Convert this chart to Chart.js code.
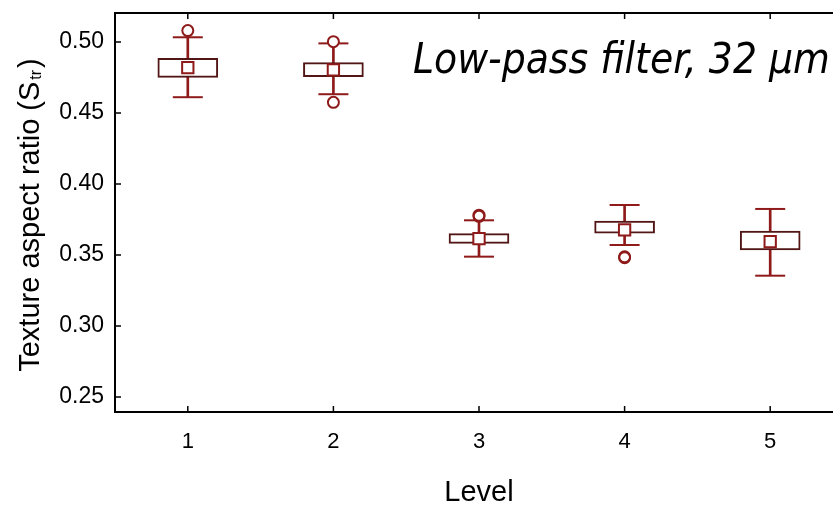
<!DOCTYPE html>
<html>
<head>
<meta charset="utf-8">
<script src="https://cdn.jsdelivr.net/npm/chart.js@4.4.0/dist/chart.umd.min.js"></script>
<style>
  html, body { margin: 0; padding: 0; background: #fff; overflow: hidden; }
  #boxChart { display: block; margin-top: -4px; }
</style>
</head>
<body>
<canvas id="boxChart" width="860" height="509"></canvas>
<script>
// data
const levels = ['1', '2', '3', '4', '5'];
const whiskerLow = [0.4611, 0.4632, 0.3488, 0.3570, 0.3354];
const q1 = [0.4751, 0.4756, 0.3582, 0.3653, 0.3535];
const q3 = [0.4885, 0.4854, 0.3650, 0.3739, 0.3669];
const whiskerHigh = [0.5033, 0.4990, 0.3744, 0.3852, 0.3824];
const means = [0.4819, 0.4803, 0.3615, 0.3676, 0.3594];
const outliersA = [0.5080, 0.5002, 0.3772, 0.3487, null];
const outliersB = [null, 0.4575, 0.3780, 0.3481, null];
const yTicks = [0.25, 0.30, 0.35, 0.40, 0.45, 0.50];

const red = '#8e1a1a';
const dark = '#521616';
const font = '"Liberation Sans", Arial, sans-serif';

const framePlugin = {
   id: 'frame',
   afterDraw(chart) {
      const c = chart.ctx;
      const a = chart.chartArea;
      const xs = chart.scales.x;
      const ys = chart.scales.y;
      c.save();
      c.strokeStyle = '#000';
      c.lineWidth = 2;
      // top border
      c.beginPath();
      c.moveTo(a.left, a.top);
      c.lineTo(a.right, a.top);
      c.stroke();
      // inward ticks
      c.lineWidth = 1.5;
      c.beginPath();
      levels.forEach((l, i) => {
         const px = xs.getPixelForValue(i);
         c.moveTo(px, a.bottom);
         c.lineTo(px, a.bottom - 6);
         c.moveTo(px, a.top);
         c.lineTo(px, a.top + 6);
      });
      yTicks.forEach(v => {
         const py = ys.getPixelForValue(v);
         c.moveTo(a.left, py);
         c.lineTo(a.left + 6, py);
      });
      c.stroke();

      // y title with subscript
      c.fillStyle = '#000';
      c.translate(31, (a.top + a.bottom) / 2 + 3);
      c.rotate(-Math.PI / 2);
      c.textBaseline = 'middle';
      const main = 'Texture aspect ratio (S';
      const sub = 'tr';
      c.font = '29px ' + font;
      const w1 = c.measureText(main).width;
      c.font = '16px ' + font;
      const w2 = c.measureText(sub).width;
      c.font = '29px ' + font;
      const w3 = c.measureText(')').width;
      let x0 = -(w1 + w2 + 3 + w3) / 2;
      c.fillText(main, x0, 0);
      c.font = '16px ' + font;
      c.fillText(sub, x0 + w1 + 2, 6);
      c.font = '29px ' + font;
      c.fillText(')', x0 + w1 + w2 + 4, 0);
      c.restore();

      // caption inside plot
      c.save();
      c.fillStyle = '#000';
      c.font = 'italic 42px "DejaVu Sans Condensed", "DejaVu Sans", sans-serif';
      c.textBaseline = 'alphabetic';
      c.fillText('Low-pass filter, 32 \u00b5m', 413, a.top + 60);
      c.restore();
   }
};

const ctx = document.getElementById('boxChart').getContext('2d');
const boxChart = new Chart(ctx, {
   type: 'bar',
   data: {
      labels: levels,
      datasets: [
         {
            label: 'whisker',
            data: whiskerLow.map((lo, i) => [lo, whiskerHigh[i]]),
            backgroundColor: red,
            borderWidth: 0,
            barThickness: 2,
            grouped: false,
            order: 6
         },
         {
            label: 'box',
            data: q1.map((lo, i) => [lo, q3[i]]),
            backgroundColor: '#fff',
            borderColor: dark,
            borderWidth: 2,
            borderSkipped: false,
            barThickness: 60,
            grouped: false,
            order: 5
         },
         {
            type: 'line',
            label: 'capHigh',
            data: whiskerHigh,
            showLine: false,
            pointStyle: 'line',
            pointRadius: 15,
            pointBorderColor: red,
            pointBorderWidth: 2,
            order: 4
         },
         {
            type: 'line',
            label: 'capLow',
            data: whiskerLow,
            showLine: false,
            pointStyle: 'line',
            pointRadius: 15,
            pointBorderColor: red,
            pointBorderWidth: 2,
            order: 4
         },
         {
            type: 'line',
            label: 'outliersA',
            data: outliersA,
            showLine: false,
            pointStyle: 'circle',
            pointRadius: 5.5,
            pointBackgroundColor: '#fff',
            pointBorderColor: red,
            pointBorderWidth: 2,
            order: 3
         },
         {
            type: 'line',
            label: 'outliersB',
            data: outliersB,
            showLine: false,
            pointStyle: 'circle',
            pointRadius: 5.5,
            pointBackgroundColor: 'rgba(255,255,255,0)',
            pointBorderColor: red,
            pointBorderWidth: 2,
            order: 2
         },
         {
            type: 'line',
            label: 'mean',
            data: means,
            showLine: false,
            pointStyle: 'rect',
            pointRadius: 8,
            pointBackgroundColor: '#fff',
            pointBorderColor: red,
            pointBorderWidth: 2,
            order: 1
         }
      ]
   },
   options: {
      responsive: false,
      animation: false,
      events: [],
      layout: { padding: { top: 0, right: 7, left: 0, bottom: 0 } },
      plugins: {
         legend: { display: false },
         tooltip: { enabled: false }
      },
      scales: {
         x: {
            offset: true,
            grid: { display: false },
            border: { display: true, color: '#000', width: 2 },
            ticks: { color: '#000', font: { family: font, size: 22 }, padding: 9 },
            title: { display: true, text: 'Level', color: '#000', font: { family: font, size: 29 }, padding: { top: 29, bottom: -5 } },
            afterFit(scale) { scale.height = 93; }
         },
         y: {
            min: 0.2394,
            max: 0.5204,
            grid: { display: false },
            border: { display: true, color: '#000', width: 2 },
            ticks: {
               color: '#000',
               font: { family: font, size: 23 },
               padding: 3,
               callback: v => v.toFixed(2)
            },
            afterBuildTicks(scale) { scale.ticks = yTicks.map(v => ({ value: v })); },
            afterFit(scale) { scale.width = 115; }
         }
      }
   },
   plugins: [framePlugin]
});
</script>
</body>
</html>
